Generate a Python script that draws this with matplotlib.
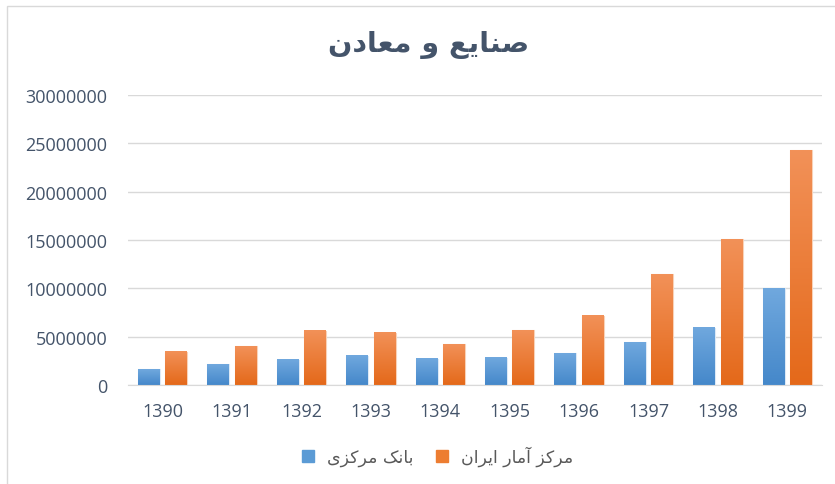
import matplotlib
matplotlib.use('Agg')
import matplotlib.pyplot as plt
from matplotlib.lines import Line2D
from matplotlib.patches import Rectangle
from matplotlib.colors import LinearSegmentedColormap
import numpy as np

years = ['1390', '1391', '1392', '1393', '1394', '1395', '1396', '1397', '1398', '1399']
central_bank = [1650000, 2170000, 2590000, 3030000, 2690000, 2830000, 3310000, 4410000, 5900000, 10000000]
stat_center = [3440000, 4030000, 5590000, 5410000, 4200000, 5660000, 7170000, 11450000, 15070000, 24310000]
title_text = 'صنایع و معادن'
series_names = ['بانک مرکزی', 'مرکز آمار ایران']

# presentation forms: isolated, final, initial, medial (None = does not join forward)
FORMS = {
    'ا': ('\uFE8D', '\uFE8E', None, None),
    'آ': ('\uFE81', '\uFE82', None, None),
    'د': ('\uFEA9', '\uFEAA', None, None),
    'ر': ('\uFEAD', '\uFEAE', None, None),
    'ز': ('\uFEAF', '\uFEB0', None, None),
    'و': ('\uFEED', '\uFEEE', None, None),
    'ب': ('\uFE8F', '\uFE90', '\uFE91', '\uFE92'),
    'ن': ('\uFEE5', '\uFEE6', '\uFEE7', '\uFEE8'),
    'ص': ('\uFEB9', '\uFEBA', '\uFEBB', '\uFEBC'),
    'ع': ('\uFEC9', '\uFECA', '\uFECB', '\uFECC'),
    'م': ('\uFEE1', '\uFEE2', '\uFEE3', '\uFEE4'),
    'ی': ('\uFBFC', '\uFBFD', '\uFBFE', '\uFBFF'),
    'ک': ('\uFB8E', '\uFB8F', '\uFB90', '\uFB91'),
}


def shape(text):
    """Join Persian letters by hand and reverse for left-to-right drawing."""
    out = []
    for i, ch in enumerate(text):
        if ch not in FORMS:
            out.append(ch)
            continue
        prev = text[i - 1] if i > 0 else ''
        nxt = text[i + 1] if i + 1 < len(text) else ''
        jp = prev in FORMS and FORMS[prev][2] is not None
        jn = nxt in FORMS and FORMS[ch][2] is not None
        iso, fin, ini, med = FORMS[ch]
        if jp and jn:
            out.append(med)
        elif jp:
            out.append(fin)
        elif jn:
            out.append(ini)
        else:
            out.append(iso)
    return ''.join(out)[::-1]


TEXT = '#44546A'
BLUE = ('#70A8DE', '#4588CA')
ORANGE = ('#F29158', '#E4691A')

fig = plt.figure(figsize=(8.35, 4.85), dpi=100)
fig.patches.append(Rectangle((7 / 835, -0.1), 1.2, 1 - 7 / 485 + 0.1, transform=fig.transFigure,
                             fill=False, edgecolor='#D9D9D9', linewidth=1))
ax = fig.add_axes([128 / 835, 1 - 386 / 485, 694 / 835, 290 / 485])

x = np.arange(len(years))
w = 0.317
b1 = ax.bar(x - 0.197, central_bank, w, color=BLUE[1], edgecolor='#DCE9F6', linewidth=0.8, zorder=2)
b2 = ax.bar(x + 0.197, stat_center, w, color=ORANGE[1], edgecolor='#F8D2B8', linewidth=0.8, zorder=2)

grad = np.linspace(0, 1, 100).reshape(-1, 1)
for bars, (top, bot) in [(b1, BLUE), (b2, ORANGE)]:
    cmap = LinearSegmentedColormap.from_list('g', [bot, top])
    for bar in bars:
        x0, y0 = bar.get_x(), bar.get_y()
        ax.imshow(grad, cmap=cmap, origin='lower', aspect='auto', zorder=2.5,
                  extent=(x0, x0 + bar.get_width(), y0, y0 + bar.get_height()))

ax.set_xlim(-0.5, len(years) - 0.5)
ax.set_ylim(0, 30000000)
ax.set_yticks(np.arange(0, 30000001, 5000000))
ax.set_yticklabels([str(v) for v in range(0, 30000001, 5000000)])
ax.set_xticks(x)
ax.set_xticklabels(years)
ax.yaxis.grid(True, color='#D9D9D9', linewidth=1, zorder=0)
ax.set_axisbelow(True)
for s in ['top', 'right', 'left']:
    ax.spines[s].set_visible(False)
ax.spines['bottom'].set_color('#D9D9D9')
ax.tick_params(length=0, labelsize=13, labelcolor=TEXT, pad=12)
ax.tick_params(axis='y', pad=15)
for lab in ax.get_xticklabels() + ax.get_yticklabels():
    lab.set_family('Open Sans')

fig.text(0.513, 1 - 45 / 485, shape(title_text), ha='center', va='center', fontsize=20.5,
         fontweight='bold', color=TEXT, family='DejaVu Sans')

handles = [Line2D([], [], marker='s', linestyle='', markersize=8, color='#5B9BD5'),
           Line2D([], [], marker='s', linestyle='', markersize=8, color='#ED7D31')]
fig.legend(handles, [shape(n) for n in series_names], loc='center', ncol=2,
           bbox_to_anchor=(432 / 835, 1 - 457 / 485), frameon=False,
           labelcolor='#595959', handletextpad=0.1, columnspacing=0.6,
           prop={'family': 'DejaVu Sans', 'size': 12.5})

fig.savefig('out.png', dpi=100)
